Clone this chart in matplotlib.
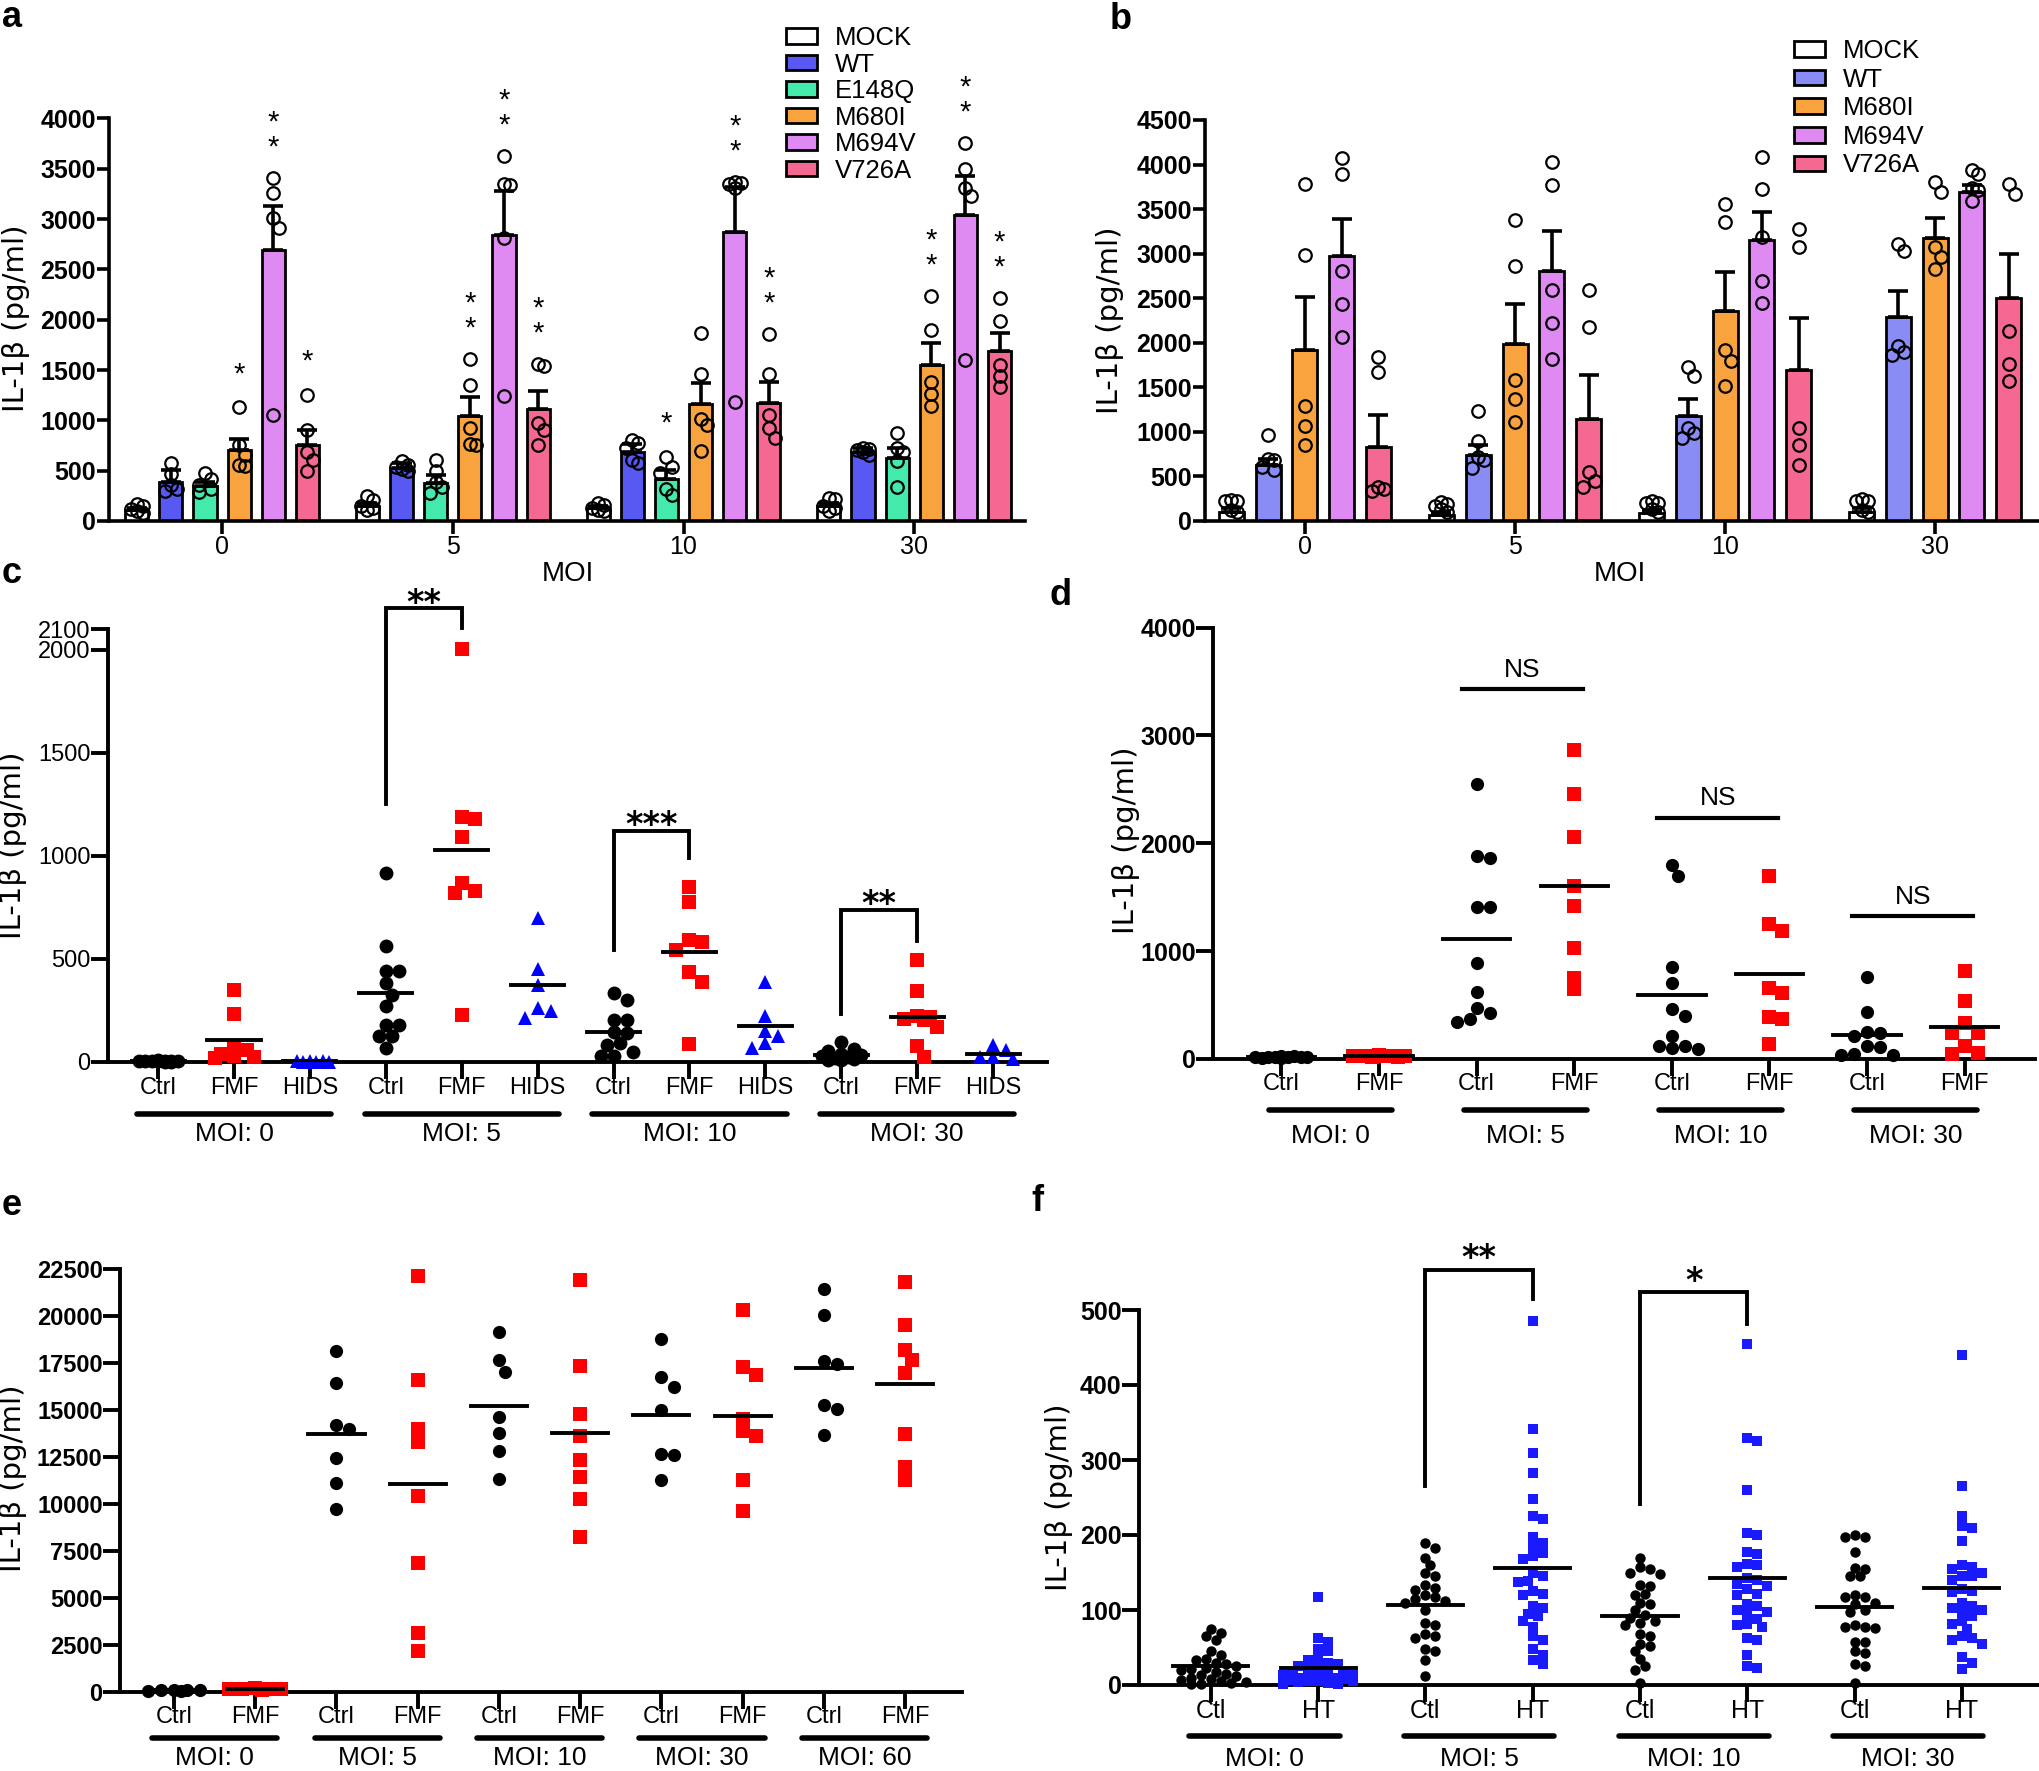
import numpy as np
import matplotlib.pyplot as plt
from matplotlib.patches import Patch
from matplotlib.transforms import blended_transform_factory

plt.rcParams['font.family'] = ['Liberation Sans', 'DejaVu Sans']

# ---------------- data ----------------
moi = ['0', '5', '10', '30']

# panel a: bars = mean, whisker = SEM, circles = replicates
a_names = ['MOCK', 'WT', 'E148Q', 'M680I', 'M694V', 'V726A']
a_colors = ['white', '#5858f2', '#44eaac', '#f9a33e', '#df8af2', '#f56892']
a_mean = [[110, 150, 130, 150],
          [385, 523, 684, 684],
          [348, 381, 422, 624],
          [706, 1047, 1159, 1551],
          [2691, 2841, 2871, 3039],
          [759, 1110, 1177, 1690]]
a_sem = [[20, 25, 20, 25],
         [120, 57, 82, 37],
         [44, 79, 83, 97],
         [109, 187, 217, 217],
         [438, 437, 448, 389],
         [146, 180, 206, 179]]
a_pts = [
    [[80, 100, 120, 150, 170], [250, 210, 150, 130, 110], [180, 160, 130, 110, 100], [230, 220, 150, 130, 100]],
    [[580, 470, 360, 320, 300], [600, 560, 540, 520, 500], [800, 780, 730, 610, 580], [730, 720, 710, 690, 660]],
    [[480, 420, 360, 320, 290], [610, 500, 390, 340, 280], [640, 540, 480, 320, 260], [870, 730, 690, 600, 340]],
    [[1130, 760, 660, 560, 550], [1610, 1350, 920, 770, 760], [1870, 1460, 1010, 950, 700], [2240, 1900, 1380, 1260, 1140]],
    [[3410, 3260, 3010, 2910, 1050], [3630, 3350, 3340, 2810, 1240], [3370, 3360, 3350, 3310, 1180], [3760, 3500, 3310, 3230, 1600]],
    [[1250, 900, 690, 610, 500], [1560, 1540, 970, 900, 760], [1860, 1460, 1050, 920, 820], [2220, 1990, 1550, 1440, 1330]],
]
a_stars = [[0, 0, 0, 0], [0, 0, 0, 0], [0, 0, 1, 0], [1, 2, 0, 2], [2, 2, 2, 2], [1, 2, 2, 2]]

# panel b
b_names = ['MOCK', 'WT', 'M680I', 'M694V', 'V726A']
b_colors = ['white', '#8a8cf6', '#f9a33e', '#df8af2', '#f56892']
b_mean = [[106, 63, 85, 106],
          [634, 739, 1183, 2290],
          [1914, 1986, 2353, 3181],
          [2970, 2810, 3148, 3697],
          [832, 1149, 1690, 2505]]
b_sem = [[42, 34, 40, 42],
         [63, 114, 182, 296],
         [600, 452, 436, 220],
         [414, 443, 317, 76],
         [359, 486, 592, 486]]
b_pts = [
    [[240, 230, 220, 120, 100], [210, 190, 170, 130, 100], [220, 200, 200, 130, 100], [250, 230, 220, 120, 100]],
    [[970, 700, 680, 610, 570], [1240, 900, 720, 680, 590], [1730, 1630, 1040, 990, 930], [3110, 3030, 1960, 1900, 1860]],
    [[3780, 2990, 1290, 1070, 850], [3380, 2860, 1580, 1370, 1110], [3560, 3360, 1920, 1800, 1520], [3800, 3690, 3080, 2960, 2830]],
    [[4070, 3890, 2810, 2430, 2060], [4030, 3770, 2590, 2220, 1820], [4080, 3730, 3190, 2690, 2450], [3940, 3890, 3740, 3720, 3590]],
    [[1840, 1670, 380, 360, 340], [2590, 2180, 550, 450, 380], [3280, 3080, 1040, 850, 630], [3780, 3670, 2130, 1760, 1570]],
]

# panel c
c_groups = ['MOI: 0', 'MOI: 5', 'MOI: 10', 'MOI: 30']
c_cats = ['Ctrl', 'FMF', 'HIDS']
c_vals = [
    [8, 6, 5, 5, 4, 4, 3, 3, 2, 2],
    [350, 235, 80, 60, 40, 30, 25, 20],
    [4, 3, 3, 2, 2, 1],
    [916, 565, 442, 442, 382, 326, 274, 179, 179, 127, 127, 66],
    [2005, 1190, 1180, 1090, 870, 830, 820, 230],
    [700, 450, 375, 260, 245, 215],
    [335, 300, 205, 205, 144, 140, 92, 83, 49, 31, 30],
    [850, 775, 590, 580, 545, 435, 390, 85],
    [390, 225, 150, 125, 90, 70],
    [95, 65, 55, 40, 35, 30, 25, 20, 15, 10, 10],
    [495, 345, 225, 220, 210, 205, 170, 78, 23],
    [83, 57, 25, 22, 15],
]
c_sig = [(3, 4, 2200, 1249, 2104, '**'),
         (6, 7, 1119, 543, 990, '***'),
         (9, 10, 737, 231, 586, '**')]

# panel d
d_groups = ['MOI: 0', 'MOI: 5', 'MOI: 10', 'MOI: 30']
d_cats = ['Ctrl', 'FMF']
d_vals = [
    [30, 25, 22, 20, 20, 18, 15, 15, 12, 10],
    [35, 32, 30, 28, 25, 25, 22, 20],
    [2550, 1865, 1880, 1410, 1405, 890, 620, 475, 430, 375, 340],
    [2860, 2460, 2060, 1600, 1420, 1030, 755, 645],
    [1800, 1700, 855, 705, 460, 400, 210, 125, 120, 100, 95],
    [1700, 1250, 1185, 660, 610, 390, 375, 140],
    [760, 440, 250, 245, 210, 125, 110, 45, 40, 40],
    [820, 540, 330, 240, 240, 125, 60, 50],
]
d_ns = [(2, 3, 3427), (4, 5, 2238), (6, 7, 1324)]

# panel e
e_groups = ['MOI: 0', 'MOI: 5', 'MOI: 10', 'MOI: 30', 'MOI: 60']
e_cats = ['Ctrl', 'FMF']
e_vals = [
    [120, 100, 90, 80, 70, 60],
    [200, 180, 160, 150, 140, 120],
    [18140, 16430, 14190, 14000, 12420, 11080, 9720],
    [22100, 16590, 13990, 13290, 10420, 6870, 3110, 2160],
    [19140, 17640, 17030, 14630, 13750, 12830, 11340],
    [21900, 17340, 14790, 13590, 12350, 11440, 10280, 8220],
    [18740, 16730, 16230, 14990, 12630, 12620, 11240],
    [20300, 17260, 16830, 14530, 13850, 13630, 11280, 9620],
    [21440, 20040, 17600, 17440, 15230, 15030, 13650],
    [21800, 19500, 18200, 17640, 16930, 13690, 11940, 11280],
]

# panel f
f_groups = ['MOI: 0', 'MOI: 5', 'MOI: 10', 'MOI: 30']
f_cats = ['Ctl', 'HT']
f_vals = [
    [75, 70, 65, 60, 45, 40, 35, 33, 30, 28, 25, 23, 22, 20, 18, 15, 13, 12, 10, 8, 7, 5, 4, 3, 2, 1],
    [118, 63, 58, 48, 45, 35, 33, 30, 28, 25, 22, 20, 18, 17, 15, 14, 13, 12, 10, 10, 9, 8, 7, 6, 5, 5, 4, 3, 2, 2],
    [190, 183, 170, 160, 150, 145, 133, 130, 127, 120, 117, 115, 112, 110, 100, 83, 80, 68, 66, 63, 48, 45, 33, 12],
    [485, 342, 310, 283, 248, 226, 222, 198, 190, 185, 176, 172, 168, 150, 146, 139, 137, 125, 122, 120, 106, 103,
     95, 92, 85, 78, 65, 60, 48, 40, 33, 28],
    [170, 158, 155, 150, 148, 133, 132, 122, 120, 110, 108, 100, 93, 90, 85, 83, 80, 68, 65, 55, 52, 45, 35, 25, 20, 3],
    [455, 330, 325, 260, 203, 200, 178, 175, 162, 160, 158, 143, 140, 135, 132, 128, 122, 120, 108, 106, 100, 98,
     95, 88, 82, 80, 78, 63, 60, 40, 25, 23],
    [200, 198, 197, 178, 156, 155, 146, 145, 120, 118, 117, 110, 108, 100, 98, 80, 78, 78, 76, 58, 57, 45, 43, 28, 25, 3],
    [440, 265, 225, 212, 210, 192, 160, 158, 155, 150, 146, 145, 140, 128, 126, 124, 110, 105, 103, 100, 98, 92,
     85, 82, 75, 65, 63, 60, 55, 38, 30, 22],
]
f_sig = [(2, 3, 554, 266, 515, '**'), (4, 5, 524, 242, 482, '*')]

# ---------------- figure ----------------
W, H = 2040, 1771
fig = plt.figure(figsize=(W / 100, H / 100), dpi=100)


def axes_px(left, top, right, bottom):
    ax = fig.add_axes([left / W, 1 - bottom / H, (right - left) / W, (bottom - top) / H])
    ax.patch.set_alpha(0)
    for s in ['top', 'right']:
        ax.spines[s].set_visible(False)
    return ax


def style(ax, xlim, ylim, yticks, bold=True, fs=18, lw=2.6, tlen=9):
    ax.set_xlim(*xlim)
    ax.set_ylim(*ylim)
    ax.spines['left'].set_linewidth(lw)
    ax.spines['bottom'].set_linewidth(lw)
    ax.set_yticks(yticks)
    ax.set_yticklabels([str(t) for t in yticks], fontsize=fs,
                       fontweight='bold' if bold else 'normal')
    ax.tick_params(axis='y', length=tlen, width=lw, pad=0.5)
    ax.tick_params(axis='x', length=tlen, width=lw, labelbottom=False)


def ftext(ax, x, ypx, s, **kw):
    tr = blended_transform_factory(ax.transData, fig.transFigure)
    ax.text(x, 1 - ypx / H, s, transform=tr, ha='center', va='center', clip_on=False, **kw)


def fline(ax, x0, x1, ypx, lw=4):
    tr = blended_transform_factory(ax.transData, fig.transFigure)
    ax.plot([x0, x1], [1 - ypx / H] * 2, transform=tr, color='black', lw=lw,
            solid_capstyle='round', clip_on=False)


def swarm(ax, xc, vals, diam, half_w):
    # spread points sideways (in pixels) so markers do not sit on top of each other
    tr = ax.transData
    x0 = tr.transform((xc, 0))[0]
    ys = [tr.transform((xc, v))[1] for v in vals]
    step = diam / 2
    n = max(int(half_w / step), 0)
    cands = [0.0] + [s * k * step for k in range(1, n + 1) for s in (1, -1)]
    placed, out = [], np.zeros(len(vals))
    for i in np.argsort(vals)[::-1]:
        best, best_d = 0.0, -1
        for c in cands:
            d = min([np.hypot(c - px, ys[i] - py) for px, py in placed], default=1e9)
            if d >= diam * 0.9:
                best = c
                break
            if d > best_d:
                best, best_d = c, d
        placed.append((best, ys[i]))
        out[i] = best
    inv = tr.inverted()
    return [inv.transform((x0 + o, 0))[0] for o in out]


def bar_panel(ax, names, colors, mean, sem, pts, pitch, width, stars=None):
    n = len(names)
    handles = []
    for k in range(n):
        xs = np.arange(len(moi)) + (k - (n - 1) / 2) * pitch
        ax.bar(xs, mean[k], width, color=colors[k], edgecolor='black', lw=2, zorder=2)
        ax.errorbar(xs, mean[k], yerr=[np.zeros(len(moi)), sem[k]], fmt='none', ecolor='black',
                    elinewidth=2.6, capsize=7, capthick=2.6, zorder=3)
        for g in range(len(moi)):
            px = swarm(ax, xs[g], pts[k][g], 12, 10)
            ax.plot(px, pts[k][g], ls='none', marker='o', ms=9, mfc='none', mec='black',
                    mew=1.6, zorder=4, clip_on=False)
            if stars is not None and stars[k][g]:
                ns = stars[k][g]
                ax.text(xs[g], max(pts[k][g]) + 330 + (ns - 1) * 95, '\n'.join(['*'] * ns),
                        ha='center', va='center', fontsize=21, linespacing=0.85, clip_on=False)
        handles.append(Patch(facecolor=colors[k], edgecolor='black', lw=2, label=names[k]))
    ax.set_xticks(range(len(moi)))
    for g, m in enumerate(moi):
        ftext(ax, g, 547, m, fontsize=18)
    return handles


def dot_panel(ax, vals, colors, markers, ms, diam, half_w, line_w):
    for i, v in enumerate(vals):
        xs = swarm(ax, i, v, diam, half_w)
        ax.plot(xs, v, ls='none', marker=markers[i % len(markers)], ms=ms,
                color=colors[i % len(colors)], mew=0, zorder=3, clip_on=False)
        m = np.mean(v)
        ax.plot([i - line_w / 2, i + line_w / 2], [m, m], color='black', lw=2.8, zorder=4)
    ax.set_xticks(range(len(vals)))


def cat_labels(ax, cats, groups, y_lab, y_line, y_grp, span, fs_cat=17, fs_grp=19):
    k = len(cats)
    for i in range(len(groups) * k):
        ftext(ax, i, y_lab, cats[i % k], fontsize=fs_cat)
    for g, name in enumerate(groups):
        c = g * k + (k - 1) / 2
        fline(ax, c - span, c + span, y_line)
        ftext(ax, c, y_grp, name, fontsize=fs_grp)


def bracket(ax, sig, off, fs=24):
    for l, r, top, lb, rb, s in sig:
        ax.plot([l, l, r, r], [lb, top, top, rb], color='black', lw=2.8, clip_on=False,
                solid_joinstyle='miter')
        ax.annotate(s, ((l + r) / 2, top), xytext=(0, off), textcoords='offset points',
                    ha='center', va='baseline', fontsize=fs, fontweight='bold',
                    family='DejaVu Sans', annotation_clip=False)


YLAB = 'IL-1β (pg/ml)'


def ylabel(xpx, ypx):
    fig.text(xpx / W, 1 - ypx / H, YLAB, rotation=90, ha='center', va='center',
             fontsize=21, family='DejaVu Sans')


def letter(xpx, ypx, s):
    fig.text(xpx / W, 1 - ypx / H, s, ha='left', va='top', fontsize=26, fontweight='bold')


# ---- a ----
ax = axes_px(109, 118.5, 1025, 521)
style(ax, (-0.49, 3.48), (0, 4000), list(range(0, 4001, 500)))
h = bar_panel(ax, a_names, a_colors, a_mean, a_sem, a_pts, 0.148, 0.1, a_stars)
ftext(ax, 1.5, 574, 'MOI', fontsize=20)
ax.legend(handles=h, loc='upper left', bbox_to_anchor=(786 / W, 1 - 26 / H),
          bbox_transform=fig.transFigure, frameon=False, fontsize=18.5, handlelength=1.2,
          handleheight=0.55, labelspacing=0.1, handletextpad=0.7, borderpad=0, borderaxespad=0)
ylabel(16, 318)
letter(2, 0, 'a')

# ---- b ----
ax = axes_px(1205, 120, 2038, 521)
style(ax, (-0.476, 3.49), (0, 4500), list(range(0, 4501, 500)))
h = bar_panel(ax, b_names, b_colors, b_mean, b_sem, b_pts, 0.175, 0.119)
ftext(ax, 1.5, 574, 'MOI', fontsize=20)
ax.legend(handles=h, loc='upper left', bbox_to_anchor=(1794 / W, 1 - 39 / H),
          bbox_transform=fig.transFigure, frameon=False, fontsize=18.5, handlelength=1.2,
          handleheight=0.55, labelspacing=0.18, handletextpad=0.7, borderpad=0, borderaxespad=0)
ylabel(1110, 320)
letter(1110, 2, 'b')

# ---- c ----
ax = axes_px(108, 629, 1047, 1062)
style(ax, (-0.66, 11.71), (0, 2100), [0, 500, 1000, 1500, 2000, 2100], bold=False, fs=17,
      lw=2.8, tlen=12)
dot_panel(ax, c_vals, ['black', '#ff0000', '#0000ff'], ['o', 's', '^'], 10, 13, 23, 0.7)
cat_labels(ax, c_cats, c_groups, 1088, 1114, 1134, 1.28)
bracket(ax, c_sig, -3)
ylabel(13, 845)
letter(2, 556, 'c')

# ---- d ----
ax = axes_px(1213, 627.5, 2035, 1059)
style(ax, (-0.70, 7.72), (0, 4000), [0, 1000, 2000, 3000, 4000], lw=2.8, tlen=12)
dot_panel(ax, d_vals, ['black', '#ff0000'], ['o', 's'], 9.5, 13, 32, 0.69)
cat_labels(ax, d_cats, d_groups, 1084, 1110, 1136, 0.63)
for l, r, y in d_ns:
    ax.plot([l - 0.15, r + 0.09], [y, y], color='black', lw=3, clip_on=False)
    ax.annotate('NS', ((l + r) / 2 - 0.03, y), xytext=(0, 9), textcoords='offset points',
                ha='center', va='baseline', fontsize=19, annotation_clip=False)
ylabel(1126, 840)
letter(1050, 578, 'd')

# ---- e ----
ax = axes_px(120, 1268.6, 962, 1692)
style(ax, (-0.665, 9.70), (0, 22500), list(range(0, 22501, 2500)), fs=17, lw=2.8, tlen=12)
dot_panel(ax, e_vals, ['black', '#ff0000'], ['o', 's'], 9.5, 13, 26, 0.69)
cat_labels(ax, e_cats, e_groups, 1717, 1738, 1758, 0.77)
ylabel(13, 1478)
letter(2, 1188, 'e')

# ---- f ----
ax = axes_px(1139, 1310, 2038, 1685)
style(ax, (-0.67, 7.71), (0, 500), [0, 100, 200, 300, 400, 500], lw=2.8, tlen=12)
dot_panel(ax, f_vals, ['black', '#1a1aff'], ['o', 's'], 7.5, 10, 38, 0.7)
cat_labels(ax, f_cats, f_groups, 1711, 1736, 1759, 0.7, fs_cat=18)
bracket(ax, f_sig, 1)
ylabel(1059, 1497)
letter(1031, 1184, 'f')

fig.savefig('out.png', dpi=100)
